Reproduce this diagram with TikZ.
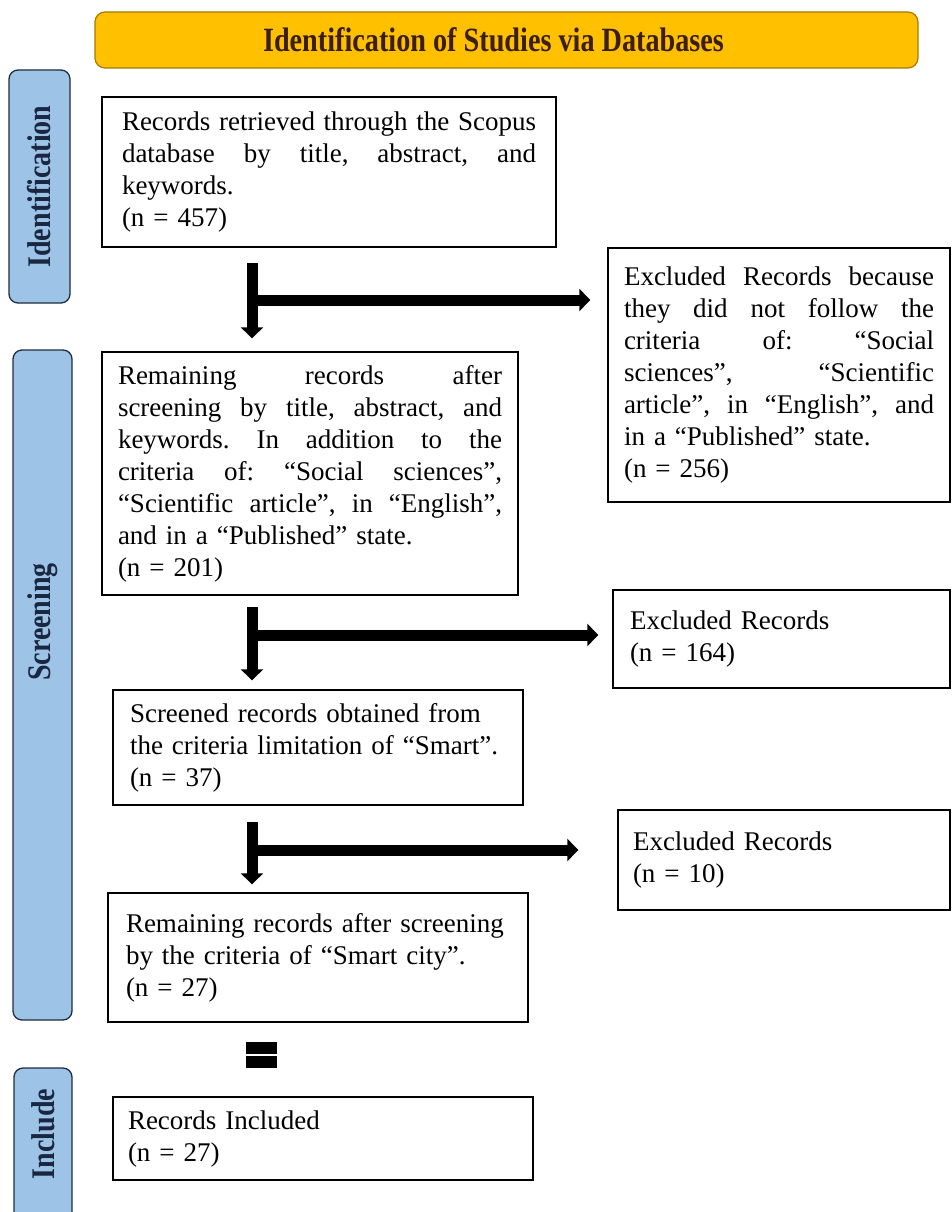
\documentclass[tikz,border=0pt]{standalone}
\usepackage{fontspec}
\setmainfont{Liberation Serif}
\usetikzlibrary{arrows.meta,calc}
\definecolor{hdrfill}{HTML}{FFC000}
\definecolor{hdrline}{HTML}{A67C00}
\definecolor{hdrtext}{HTML}{3B1E0E}
\definecolor{sidefill}{HTML}{9DC3E6}
\definecolor{sideline}{HTML}{1F2D40}
\definecolor{sidetext}{HTML}{1A2740}
\newcommand{\jl}[2]{\leavevmode\hbox to #1{\spaceskip=\fontdimen2\font plus 1fil\relax #2}}
\newcommand{\ml}[1]{\mbox{#1}}
\newcommand{\condensed}[1]{\scalebox{0.85}[1]{#1}}
\frenchspacing
\begin{document}
\begin{tikzpicture}[x=1pt,y=-1pt,
  box/.style={draw=black, line width=1.4pt, rectangle, inner sep=0pt, align=left,
    font=\fontsize{27}{32}\selectfont},
  sidebox/.style={draw=sideline, fill=sidefill, line width=1.3pt, rounded corners=9pt, inner sep=0pt},
  sidetxt/.style={rotate=90, text=sidetext, font=\fontsize{33}{36}\selectfont\bfseries, inner sep=0pt},
  hdr/.style={draw=hdrline, fill=hdrfill, line width=1.2pt, rounded corners=10pt, inner sep=0pt},
  hdrtxt/.style={text=hdrtext, font=\fontsize{34}{36}\selectfont\bfseries, inner sep=0pt},
  arr/.style={line width=11pt, -{Triangle[width=22pt,length=11pt]}}
]
\useasboundingbox (0,0) rectangle (952,1212);
\clip (0,0) rectangle (952,1212);
\fill[white] (0,0) rectangle (952,1212);

% header
\node[hdr, minimum width=823pt, minimum height=56pt] (hdr) at (506.5,40) {};
\node[hdrtxt] (hdrt) at (493.5,40) {\scalebox{0.83}[1]{Identification of Studies via Databases}};

% side labels
\node[sidebox, minimum width=61pt, minimum height=233pt] (sId) at (39.5,186.5) {};
\node[sidetxt] (tId) at (sId.center) {\condensed{Identification}};
\node[sidebox, minimum width=59pt, minimum height=670pt] (sScr) at (42.5,685) {};
\node[sidetxt] (tScr) at (42.5,622) {\condensed{Screening}};
\node[sidebox, minimum width=58pt, minimum height=170pt] (sInc) at (43,1153) {};
\node[sidetxt] (tInc) at (43,1134) {\condensed{Include}};

% boxes
\node[box, minimum width=454pt, minimum height=150pt, text width=414pt] (b1) at (329,172) {%
\jl{414pt}{Records retrieved through the Scopus}\\
\jl{414pt}{database by title, abstract, and}\\
\ml{keywords.}\\
\ml{(n = 457)}};

\node[box, minimum width=342pt, minimum height=254pt, text width=310pt] (b2) at (779,375) {%
\jl{310pt}{Excluded Records because}\\
\jl{310pt}{they did not follow the}\\
\jl{310pt}{criteria of: “Social}\\
\jl{310pt}{sciences”, “Scientific}\\
\jl{310pt}{article”, in “English”, and}\\
\ml{in a “Published” state.}\\
\ml{(n = 256)}};

\node[box, minimum width=416pt, minimum height=243pt, text width=384pt] (b3) at (310,473.5) {%
\jl{384pt}{Remaining records after}\\
\jl{384pt}{screening by title, abstract, and}\\
\jl{384pt}{keywords. In addition to the}\\
\jl{384pt}{criteria of: “Social sciences”,}\\
\jl{384pt}{“Scientific article”, in “English”,}\\
\ml{and in a “Published” state.}\\
\ml{(n = 201)}};

\node[box, minimum width=337pt, minimum height=98pt, text width=303pt] (b4) at (781.5,639) {%
\ml{Excluded Records}\\
\ml{(n = 164)}};

\node[box, minimum width=410pt, minimum height=115pt, text width=376pt] (b5) at (318,747.5) {%
\ml{Screened records obtained from}\\
\ml{the criteria limitation of “Smart”.}\\
\ml{(n = 37)}};

\node[box, minimum width=332pt, minimum height=100pt, text width=302pt] (b6) at (784,860) {%
\ml{Excluded Records}\\
\ml{(n = 10)}};

\node[box, minimum width=420pt, minimum height=129pt, text width=384pt] (b7) at (318,957.5) {%
\ml{Remaining records after screening}\\
\ml{by the criteria of “Smart city”.}\\
\ml{(n = 27)}};

\node[box, minimum width=420pt, minimum height=83pt, text width=390pt] (b8) at (323,1138.5) {%
\ml{Records Included}\\
\ml{(n = 27)}};

% arrows
\coordinate (v1) at (252,263);
\coordinate (h1) at (252,300);
\draw[arr, shorten >=13pt] (v1) -- (v1 |- b3.north);
\draw[arr, shorten >=17pt] (h1) -- (h1 -| b2.west);

\coordinate (v2) at (252,607);
\coordinate (h2) at (252,635);
\draw[arr, shorten >=9pt] (v2) -- (v2 |- b5.north);
\draw[arr, shorten >=14pt] (h2) -- (h2 -| b4.west);

\coordinate (v3) at (252,822);
\coordinate (h3) at (252,850);
\draw[arr, shorten >=8pt] (v3) -- (v3 |- b7.north);
\draw[arr, shorten >=39pt] (h3) -- (h3 -| b6.west);

% equals sign
\fill[black] (246,1042) rectangle (277,1054);
\fill[black] (246,1056) rectangle (277,1068);
\end{tikzpicture}
\end{document}
